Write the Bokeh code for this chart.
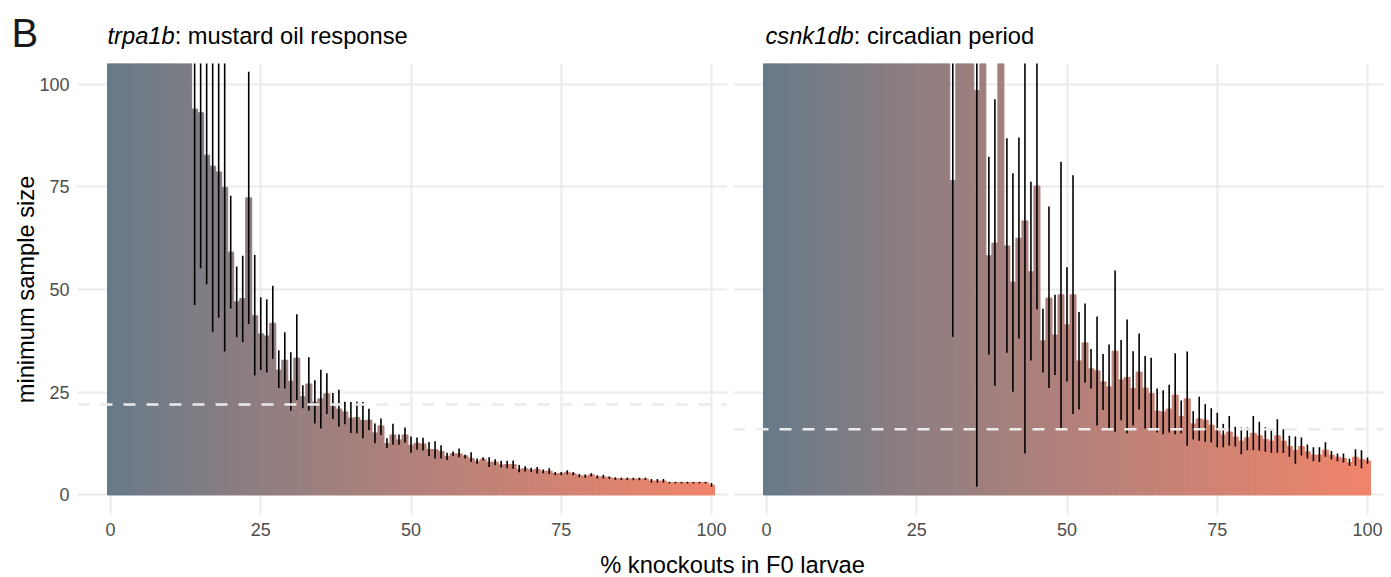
import numpy as np
from bokeh.plotting import figure
from bokeh.layouts import row, column
from bokeh.models import Span, Label, FixedTicker, Range1d
from bokeh.embed import file_html
from bokeh.resources import INLINE

# ---------------- data ----------------
knockout_pct = list(range(0, 101))
x_ticks = [0, 25, 50, 75, 100]
y_ticks = [0, 25, 50, 75, 100]

# trpa1b: mustard oil response (bars 0-13 are off-scale)
trpa1b_size = [
    1500, 900, 600, 420, 320, 260, 215, 185, 160, 142, 128, 118, 112, 108,
    93.9, 93.0, 82.7, 80.0, 78.6, 74.8, 59.1, 47.0, 47.8, 72.3,
    43.6, 39.2, 38.7, 41.8, 30.4, 32.8, 27.7, 33.3, 23.9, 27.0,
    22.6, 23.4, 24.6, 21.5, 20.9, 20.2, 18.7, 18.8, 18.1, 18.2,
    15.1, 16.8, 12.5, 14.6, 13.4, 14.6, 12.1, 12.6, 12.4, 11.1,
    11.0, 10.6, 9.4, 10.0, 10.0, 9.5, 8.9, 8.2, 8.7, 8.0,
    8.0, 7.3, 7.4, 7.4, 6.3, 6.4, 6.1, 6.2, 5.8, 5.8,
    5.2, 5.2, 5.5, 5.2, 4.7, 4.6, 4.9, 4.4, 4.4, 4.2,
    4.0, 3.9, 3.9, 3.9, 3.9, 3.9, 3.4, 3.4, 3.4, 3.0,
    3.0, 3.0, 3.0, 3.0, 3.0, 3.0, 2.4,
]
trpa1b_upper = [None] * 14 + [
    130, 130, 130, 130, 130, 130, 72.8, 55.6, 58.2, 103.0,
    58.4, 48.1, 47.6, 50.9, 35.2, 39.6, 34.7, 44.0, 26.7, 33.5,
    27.9, 30.5, 29.6, 24.8, 25.6, 22.7, 22.6, 22.7, 22.6, 21.0,
    17.4, 18.6, 13.8, 17.3, 14.7, 16.4, 14.2, 14.0, 13.9, 12.9,
    13.1, 12.1, 10.3, 10.6, 11.3, 9.8, 10.4, 8.9, 9.2, 9.2,
    8.7, 8.3, 8.3, 8.4, 7.3, 7.0, 6.6, 6.8, 6.2, 6.5,
    5.6, 5.6, 6.0, 5.6, 5.1, 5.0, 5.3, 4.8, 4.9, 4.5,
    4.3, 4.2, 4.2, 4.2, 4.2, 4.2, 3.9, 3.9, 3.9, 3.2,
    3.2, 3.2, 3.2, 3.2, 3.2, 3.2, 2.9,
]
trpa1b_lower = [None] * 14 + [
    46.2, 55.2, 51.3, 39.7, 43.1, 34.9, 45.4, 38.4, 37.2, 41.6,
    29.1, 30.4, 29.8, 33.1, 26.0, 25.9, 20.5, 23.1, 21.1, 20.5,
    17.4, 16.2, 19.7, 18.5, 16.6, 17.2, 15.1, 15.0, 13.8, 15.8,
    12.6, 14.6, 11.4, 12.2, 12.2, 12.7, 10.3, 11.0, 10.8, 9.5,
    8.9, 8.9, 8.5, 9.4, 9.2, 8.9, 8.0, 7.6, 8.4, 6.8,
    7.2, 6.7, 6.5, 6.4, 5.5, 5.7, 5.6, 5.2, 5.3, 5.1,
    4.8, 4.8, 5.0, 4.8, 4.3, 4.2, 4.5, 4.0, 4.0, 3.9,
    3.7, 3.6, 3.6, 3.6, 3.6, 3.6, 3.0, 3.0, 3.0, 2.8,
    2.8, 2.8, 2.8, 2.8, 2.8, 2.8, 2.0,
]
trpa1b_threshold = 22

# csnk1db: circadian period (many low-% bars are off-scale)
csnk1db_size = [
    900, 700, 560, 470, 400, 350, 310, 280, 255, 235,
    218, 204, 192, 181, 172, 164, 157, 150, 145, 140,
    135, 131, 127, 124, 121, 118, 116, 113, 111, 109,
    130, 76.5, 120, 115, 110, 98.4, 112, 58.2, 61.3, 108,
    60.6, 51.8, 62.5, 66.7, 54.3, 75.2, 37.5, 47.9, 38.9, 48.7,
    41.4, 48.7, 32.6, 37.0, 30.7, 30.2, 27.5, 26.3, 35.0, 28.0,
    28.6, 25.9, 29.9, 26.0, 24.7, 20.4, 20.2, 20.9, 24.3, 19.1,
    23.4, 17.3, 18.5, 18.2, 17.0, 15.6, 14.6, 15.3, 14.1, 13.1,
    13.9, 15.0, 14.4, 13.5, 13.1, 14.4, 13.1, 11.8, 10.8, 11.8,
    10.5, 9.7, 9.7, 10.9, 9.7, 9.2, 8.9, 7.9, 9.2, 8.6,
    8.3,
]
csnk1db_upper = [None] * 30 + [
    None, 130, None, None, None, 130, None, 82.3, 96.3, None,
    86.8, 78.3, 87.0, 130, 76.2, 130, 45.3, 70.2, 48.7, 81.1,
    55.4, 77.8, 44.5, 46.6, 35.5, 43.4, 34.3, 36.6, 54.6, 37.7,
    42.7, 35.0, 39.3, 33.8, 33.4, 25.9, 25.5, 26.8, 34.5, 23.0,
    34.9, 20.4, 23.9, 22.1, 21.1, 20.0, 17.3, 19.2, 16.6, 16.4,
    16.4, 19.2, 17.8, 16.5, 15.7, 18.4, 16.0, 14.4, 14.2, 14.0,
    12.3, 11.6, 11.6, 12.8, 10.7, 10.1, 10.1, 8.8, 11.1, 10.9,
    9.1,
]
csnk1db_lower = [None] * 30 + [
    None, 38.5, None, None, None, 2.0, None, 34.1, 26.6, None,
    34.6, 25.1, 38.1, 10.1, 32.7, 45.2, 29.8, 26.0, 29.2, 16.0,
    27.6, 19.7, 20.8, 27.3, 25.9, 16.9, 20.7, 15.8, 15.4, 18.2,
    15.0, 16.9, 20.8, 16.2, 16.2, 15.2, 14.8, 15.2, 14.8, 15.0,
    12.0, 13.5, 13.2, 12.9, 12.8, 11.6, 11.6, 12.0, 11.8, 9.9,
    10.9, 10.9, 10.8, 10.5, 10.3, 10.3, 10.2, 9.3, 7.6, 9.6,
    8.9, 8.2, 8.0, 9.3, 8.6, 8.2, 7.9, 7.1, 7.1, 6.5,
    7.6,
]
csnk1db_threshold = 16

panel_titles = [("trpa1b", ": mustard oil response"), ("csnk1db", ": circadian period")]
y_title = "minimum sample size"
x_title = "% knockouts in F0 larvae"
tag = "B"

# ---------------- style ----------------
FONT = "Liberation Sans"
LOW, HIGH = "#687A88", "#F0846B"
GRID = "#EBEBEB"
W, H = 1391, 577
FRAME_W, FRAME_H = 650, 452
TOP_H = 63
BOTTOM_BORDER = 34
BOT_H = H - TOP_H - FRAME_H - BOTTOM_BORDER
PX_PER_X = 6.01
X0 = -33 / PX_PER_X
X1 = X0 + FRAME_W / PX_PER_X
Y0, Y1 = -5, 105
TITLE_PX = 23.7
TAG_PX = 40
BASE_SHIFT = 0.36   # label anchor sits this fraction of the font size above the baseline


def hex2rgb(h):
    return np.array([int(h[i:i + 2], 16) for i in (1, 3, 5)], float)


M = np.array([[0.4124, 0.3576, 0.1805], [0.2126, 0.7152, 0.0722], [0.0193, 0.1192, 0.9505]])
WHITE = np.array([0.95047, 1.0, 1.08883])


def to_lab(rgb):
    c = rgb / 255
    lin = np.where(c <= 0.04045, c / 12.92, ((c + 0.055) / 1.055) ** 2.4)
    xyz = M @ lin / WHITE
    d = 6 / 29
    f = np.where(xyz > d ** 3, np.cbrt(xyz), xyz / (3 * d * d) + 4 / 29)
    return np.array([116 * f[1] - 16, 500 * (f[0] - f[1]), 200 * (f[1] - f[2])])


def from_lab(lab):
    d = 6 / 29
    fy = (lab[0] + 16) / 116
    f = np.array([fy + lab[1] / 500, fy, fy - lab[2] / 200])
    xyz = np.where(f > d, f ** 3, 3 * d * d * (f - 4 / 29)) * WHITE
    lin = np.clip(np.linalg.solve(M, xyz), 0, 1)
    c = np.where(lin <= 0.0031308, 12.92 * lin, 1.055 * lin ** (1 / 2.4) - 0.055)
    c = np.clip(np.round(c * 255), 0, 255).astype(int)
    return "#%02x%02x%02x" % tuple(c)


lab_lo, lab_hi = to_lab(hex2rgb(LOW)), to_lab(hex2rgb(HIGH))
bar_colors = [from_lab(lab_lo + (lab_hi - lab_lo) * (v / 100)) for v in knockout_pct]


def make_panel(size, upper, lower, thr, first):
    p = figure(
        frame_width=FRAME_W, frame_height=FRAME_H,
        x_range=Range1d(X0, X1), y_range=Range1d(Y0, Y1),
        output_backend="svg", toolbar_location=None,
        min_border_left=77 if first else 6, min_border_right=0 if first else 8,
        min_border_top=0, min_border_bottom=BOTTOM_BORDER,
        background_fill_color="white", border_fill_color="white",
    )
    p.outline_line_color = None
    for ax in (p.xaxis, p.yaxis):
        ax.axis_line_color = None
        ax.major_tick_line_color = None
        ax.minor_tick_line_color = None
        ax.major_tick_in = 0
        ax.major_tick_out = 0
        ax.minor_tick_in = 0
        ax.minor_tick_out = 0
        ax.major_label_text_font = FONT
        ax.major_label_text_font_size = "18px"
        ax.major_label_text_color = "#4D4D4D"
    p.xaxis.ticker = FixedTicker(ticks=x_ticks)
    p.yaxis.ticker = FixedTicker(ticks=y_ticks)
    p.xaxis.major_label_standoff = 7
    p.yaxis.major_label_standoff = 8
    p.xgrid.ticker = FixedTicker(ticks=x_ticks)
    p.ygrid.ticker = FixedTicker(ticks=y_ticks)
    for g in (p.xgrid, p.ygrid):
        g.grid_line_color = GRID
        g.grid_line_width = 2
        g.minor_grid_line_color = None
    if first:
        p.yaxis.axis_label = y_title
        p.yaxis.axis_label_text_font = FONT
        p.yaxis.axis_label_text_font_style = "normal"
        p.yaxis.axis_label_text_font_size = f"{TITLE_PX}px"
        p.yaxis.axis_label_text_color = "#000000"
        p.yaxis.axis_label_standoff = -3
    else:
        p.yaxis.visible = False

    p.vbar(x=knockout_pct, top=size, bottom=0, width=1.0,
           fill_color=bar_colors, line_color=bar_colors, line_width=1.0)

    ok = [i for i in range(len(knockout_pct)) if upper[i] is not None and lower[i] is not None]
    p.segment(x0=[knockout_pct[i] for i in ok], y0=[lower[i] for i in ok],
              x1=[knockout_pct[i] for i in ok], y1=[upper[i] for i in ok],
              line_color="black", line_width=1.6)

    p.add_layout(Span(location=thr, dimension="width", line_color=GRID,
                      line_width=2.5, line_dash="12 11"))
    return p


def text_strip(height):
    f = figure(width=W, height=height, x_range=Range1d(0, W), y_range=Range1d(height, 0),
               output_backend="svg", toolbar_location=None,
               x_axis_location=None, y_axis_location=None,
               min_border_left=0, min_border_right=0, min_border_top=0, min_border_bottom=0,
               background_fill_color="white", border_fill_color="white")
    f.grid.visible = False
    f.outline_line_color = None
    return f


pL = make_panel(trpa1b_size, trpa1b_upper, trpa1b_lower, trpa1b_threshold, True)
pR = make_panel(csnk1db_size, csnk1db_upper, csnk1db_lower, csnk1db_threshold, False)

# top strip: panel tag and panel titles (y = baseline in pixels from the top)
pTop = text_strip(TOP_H)
title_font = f"{TITLE_PX}px"
pTop.add_layout(Label(x=11, y=47 - BASE_SHIFT * TAG_PX, text=tag, text_font=FONT,
                      text_font_size=f"{TAG_PX}px", text_color="#1A1A1A",
                      text_baseline="alphabetic", text_align="left"))
ital_em = {"trpa1b": 2.835, "csnk1db": 3.724}
for (ital, rest), tx in zip(panel_titles, (107, 765)):
    ty = 44 - BASE_SHIFT * TITLE_PX
    pTop.add_layout(Label(x=tx, y=ty, text=ital, text_font=FONT, text_font_style="italic",
                          text_font_size=title_font, text_color="#000000",
                          text_baseline="alphabetic", text_align="left"))
    pTop.add_layout(Label(x=tx + ital_em[ital] * TITLE_PX, y=ty, text=rest, text_font=FONT,
                          text_font_size=title_font, text_color="#000000",
                          text_baseline="alphabetic", text_align="left"))

# bottom strip: shared x-axis title
pBot = text_strip(BOT_H)
pBot.add_layout(Label(x=732, y=573 - BASE_SHIFT * TITLE_PX - (H - BOT_H), text=x_title,
                      text_font=FONT, text_font_size=title_font, text_color="#000000",
                      text_align="center", text_baseline="alphabetic"))

layout = column(pTop, row(pL, pR), pBot)
open("out.html", "w").write(file_html(layout, INLINE))
